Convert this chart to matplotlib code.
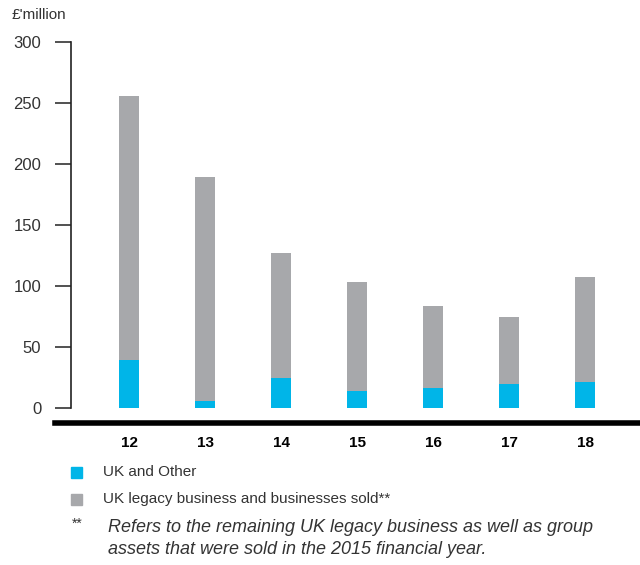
import matplotlib.pyplot as plt
from matplotlib.lines import Line2D
from matplotlib.patches import Rectangle
import numpy as np

plt.rcParams['font.family'] = ['Liberation Sans', 'DejaVu Sans']

years = ['12', '13', '14', '15', '16', '17', '18']
uk_other = [39, 6, 25, 14, 16, 20, 21]
uk_legacy = [217, 183, 102, 89, 68, 55, 86]

blue = '#00B5E8'
grey = '#A7A8AB'
text_col = '#333333'

W, H = 640, 565
fig = plt.figure(figsize=(W / 100, H / 100), dpi=100)

# axes box in pixels: left spine at x=71, 0 at y=408, 300 at y=42
left, right, top, bottom = 71, 640, 42, 408
ax = fig.add_axes([left / W, 1 - bottom / H, (right - left) / W, (bottom - top) / H])

x = np.arange(len(years))
ax.bar(x, uk_other, width=0.26, color=blue)
ax.bar(x, uk_legacy, width=0.26, bottom=uk_other, color=grey)

ax.set_ylim(0, 300)
ax.set_xlim(-0.763, 6.72)
ax.set_yticks([0, 50, 100, 150, 200, 250, 300])
ax.tick_params(axis='y', direction='out', length=11.5, width=1.2, color=text_col,
               pad=10, labelsize=12, labelcolor=text_col)
ax.set_xticks(x)
ax.set_xticklabels(years, fontweight='bold', fontsize=11)
ax.tick_params(axis='x', length=0, pad=20)

for s in ['top', 'right', 'bottom']:
    ax.spines[s].set_visible(False)
ax.spines['left'].set_linewidth(1.2)
ax.spines['left'].set_color('#222222')

# heavy baseline below the bars
fig.add_artist(Line2D([55 / W, 1.0], [1 - 423 / H] * 2, color='black', lw=4,
                      transform=fig.transFigure))

fig.text(12 / W, 1 - 15 / H, "£'million", fontsize=11, color=text_col, va='center')

# legend
for ypx, col, label in [(472, blue, 'UK and Other'),
                        (499.5, grey, 'UK legacy business and businesses sold**')]:
    fig.add_artist(Rectangle((71 / W, 1 - (ypx + 5.5) / H), 11 / W, 11 / H,
                             color=col, transform=fig.transFigure))
    fig.text(103 / W, 1 - ypx / H, label, fontsize=11, color=text_col, va='center')

fig.text(72 / W, 1 - 524 / H, '**', fontsize=10, color=text_col, va='center')
fig.text(108 / W, 1 - 527 / H, 'Refers to the remaining UK legacy business as well as group',
         fontsize=13, style='italic', color=text_col, va='center')
fig.text(108 / W, 1 - 549 / H, 'assets that were sold in the 2015 financial year.',
         fontsize=13, style='italic', color=text_col, va='center')

fig.savefig('out.png', dpi=100)
